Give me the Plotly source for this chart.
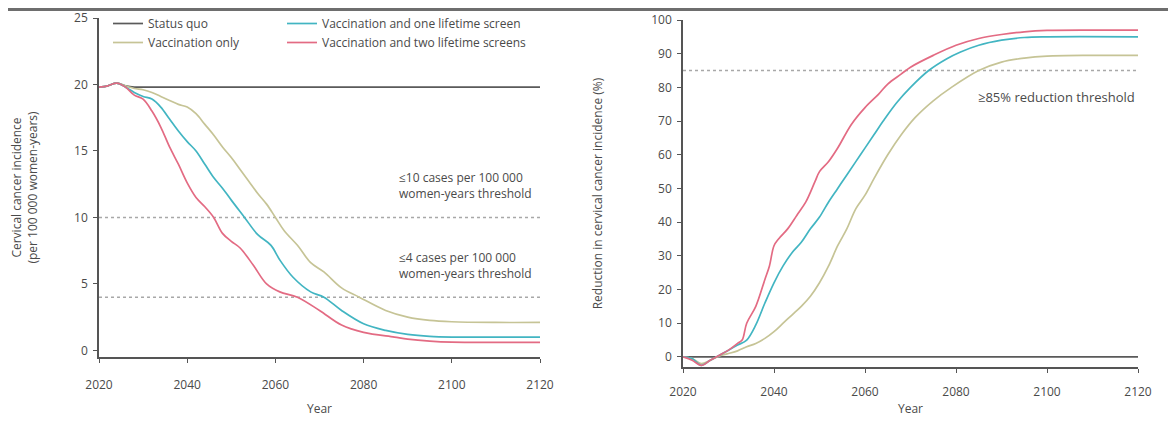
import plotly.graph_objects as go

# ---------------- data ----------------
years_sq = [2020, 2022, 2024, 2026, 2028, 2030, 2120]
inc_status_quo = [19.8, 19.9, 20.1, 19.9, 19.8, 19.8, 19.8]
red_status_quo = [0, 0, 0, 0, 0, 0, 0]

years_vo = [2020, 2022, 2024, 2026, 2028, 2030, 2032, 2034, 2036, 2038, 2040, 2042, 2044, 2046,
            2048, 2050, 2052, 2054, 2056, 2058, 2060, 2062, 2065, 2068, 2071, 2075, 2079,
            2085, 2090, 2095, 2100, 2110, 2120]
inc_vacc_only = [19.8, 19.9, 20.1, 19.9, 19.7, 19.6, 19.4, 19.1, 18.8, 18.5, 18.3, 17.8, 17.0, 16.2,
                 15.3, 14.5, 13.6, 12.7, 11.8, 11.0, 10.0, 9.0, 7.9, 6.6, 5.9, 4.7, 4.0,
                 3.0, 2.5, 2.25, 2.15, 2.1, 2.1]
red_vacc_only = [0, -0.5, -2, -1, 0.3, 1, 1.8, 3, 4, 5.5, 7.5, 10, 12.5, 15,
                 18, 22, 27, 33, 38, 44, 48, 53, 60, 66, 71, 76, 80,
                 85, 87.5, 88.7, 89.3, 89.5, 89.5]

years_one = [2020, 2022, 2024, 2026, 2028, 2030, 2032, 2034, 2036, 2038, 2040, 2042, 2044, 2046,
             2048, 2050, 2053, 2056, 2059, 2061, 2064, 2068, 2071, 2075, 2080, 2085, 2090,
             2095, 2100, 2120]
inc_one_screen = [19.8, 19.9, 20.1, 19.8, 19.4, 19.1, 18.9, 18.3, 17.4, 16.5, 15.7, 15.0, 14.0, 13.0,
                  12.2, 11.3, 10.0, 8.7, 7.9, 6.8, 5.5, 4.4, 4.0, 3.0, 2.0, 1.5, 1.2,
                  1.05, 1.0, 1.0]
years_one_r = [2020, 2022, 2024, 2026, 2028, 2030, 2032, 2034, 2036, 2038, 2040, 2042, 2044, 2046,
               2048, 2050, 2052, 2054, 2056, 2059, 2062, 2064, 2067, 2070, 2074, 2078, 2081,
               2085, 2090, 2095, 2100, 2120]
red_one_screen = [0, -0.5, -2.5, -1, 0.5, 2, 3.5, 5, 9.5, 16, 22, 27, 31, 34,
                  38, 41.5, 46, 50, 54, 60, 66, 70, 75.5, 80, 85, 88.5, 90.5,
                  92.5, 94, 94.8, 95, 95]

years_two = [2020, 2022, 2024, 2026, 2028, 2030, 2032, 2034, 2036, 2038, 2040, 2042, 2044, 2046,
             2048, 2050, 2052, 2055, 2058, 2061, 2065, 2070, 2075, 2080, 2087, 2090, 2095,
             2100, 2110, 2120]
inc_two_screens = [19.8, 19.9, 20.1, 19.8, 19.2, 18.9, 18.0, 16.8, 15.3, 14.0, 12.6, 11.5, 10.8, 10.0,
                   8.8, 8.2, 7.7, 6.4, 5.0, 4.4, 4.0, 3.0, 1.9, 1.35, 1.0, 0.85, 0.7,
                   0.62, 0.6, 0.6]
years_two_r = [2020, 2022, 2024, 2026, 2028, 2030, 2032, 2033, 2034, 2036, 2038, 2039, 2040, 2041,
               2043, 2045, 2047, 2049, 2050, 2052, 2054, 2057, 2060, 2063, 2065, 2068, 2070,
               2075, 2080, 2085, 2090, 2095, 2100, 2110, 2120]
red_two_screens = [0, -1, -2.5, -1, 0.5, 2, 4, 5, 10, 15, 23, 27, 33, 35,
                   38, 42, 46, 52, 55, 58, 62, 69, 74, 78, 81, 84, 86,
                   89.5, 92.5, 94.5, 95.7, 96.5, 96.9, 97, 97]

left_thresholds = [10, 4]
right_thresholds = [85]

names = ["Status quo", "Vaccination only", "Vaccination and one lifetime screen",
         "Vaccination and two lifetime screens"]
colors = ["#5a5a5a", "#c6c496", "#42b5c2", "#e36b83"]

FONT = "Open Sans"
TXT = "#4a4a4a"

# page offset (body margin) compensation: screen px -> figure px
OFF = 8
W, H = 1176, 428
T, B = 10, 69            # margins (figure px)
PH = H - T - B           # plot-area height


def px(xs):
    return (xs - OFF) / W


def py(ys):
    return (H - B - (ys - OFF)) / PH


fig = go.Figure()

left = [(years_sq, inc_status_quo), (years_vo, inc_vacc_only),
        (years_one, inc_one_screen), (years_two, inc_two_screens)]
legends = ["legend", "legend", "legend2", "legend2"]
for (x, y), n, c, lg in zip(left, names, colors, legends):
    fig.add_trace(go.Scatter(x=x, y=y, mode="lines", name=n, line=dict(color=c, width=1.7),
                             xaxis="x", yaxis="y", legend=lg, line_shape="spline"))

right = [(years_sq, red_status_quo), (years_vo, red_vacc_only),
         (years_one_r, red_one_screen), (years_two_r, red_two_screens)]
for (x, y), n, c in zip(right, names, colors):
    fig.add_trace(go.Scatter(x=x, y=y, mode="lines", name=n, line=dict(color=c, width=1.7),
                             xaxis="x2", yaxis="y2", showlegend=False, line_shape="spline"))

for t in left_thresholds:
    fig.add_shape(type="line", xref="x", yref="y", x0=2020, x1=2120, y0=t, y1=t,
                  line=dict(color="#a8a8a8", width=1.5, dash="dot"), layer="below")
for t in right_thresholds:
    fig.add_shape(type="line", xref="x2", yref="y2", x0=2020, x1=2120, y0=t, y1=t,
                  line=dict(color="#a8a8a8", width=1.5, dash="dot"), layer="below")

# top bar
fig.add_shape(type="rect", xref="paper", yref="paper", x0=-0.01, x1=1.01,
              y0=(H - B - 3) / PH, y1=(H - B + 2) / PH,
              fillcolor="#6e6e6e", line=dict(width=0))

ann = dict(xref="paper", yref="paper", showarrow=False, font=dict(family=FONT, size=12, color=TXT),
           xanchor="left", align="left", yanchor="middle")
fig.add_annotation(x=px(397), y=py(185), text="≤10 cases per 100 000<br>women-years threshold", **ann)
fig.add_annotation(x=px(397), y=py(265), text="≤4 cases per 100 000<br>women-years threshold", **ann)
fig.add_annotation(x=px(976), y=py(97), text="≥85% reduction threshold",
                   **{**ann, "font": dict(family=FONT, size=13, color=TXT)})

axis_common = dict(showline=True, linecolor="#555", linewidth=1.5, ticks="outside", ticklen=4,
                   tickcolor="#555", tickwidth=1.2, showgrid=False, zeroline=False, automargin=False,
                   tickfont=dict(family=FONT, size=12, color=TXT),
                   title_font=dict(family=FONT, size=12, color=TXT))

ticks_x = [2020, 2040, 2060, 2080, 2100, 2120]

fig.update_layout(
    width=W, height=H,
    margin=dict(l=0, r=0, t=T, b=B, autoexpand=False),
    paper_bgcolor="white", plot_bgcolor="white",
    font=dict(family=FONT, size=12, color=TXT),
    xaxis=dict(domain=[px(99), px(540)], range=[2020, 2120], tickvals=ticks_x,
               anchor="y", ticklabelstandoff=12, title=dict(text="Year", standoff=12), **axis_common),
    yaxis=dict(domain=[py(357), py(18)], range=[-0.5, 25], tickvals=[0, 5, 10, 15, 20, 25],
               anchor="x", ticklabelstandoff=3,
               title=dict(text="Cervical cancer incidence<br>(per 100 000 women-years)", standoff=36),
               **axis_common),
    xaxis2=dict(domain=[px(683), px(1138)], range=[2020, 2120], tickvals=ticks_x,
                anchor="y2", ticklabelstandoff=9, title=dict(text="Year", standoff=5), **axis_common),
    yaxis2=dict(domain=[py(367), min(1.0, py(20))], range=[-3, 100], tickvals=list(range(0, 101, 10)),
                anchor="x2", ticklabelstandoff=3,
                title=dict(text="Reduction in cervical cancer incidence (%)", standoff=46),
                **axis_common),
    legend=dict(x=px(108), y=py(9), xanchor="left", yanchor="top", bgcolor="rgba(0,0,0,0)",
                font=dict(family=FONT, size=12, color=TXT), tracegroupgap=0, itemwidth=30),
    legend2=dict(x=px(282), y=py(9), xanchor="left", yanchor="top", bgcolor="rgba(0,0,0,0)",
                 font=dict(family=FONT, size=12, color=TXT), tracegroupgap=0, itemwidth=30),
)

fig.write_html("out.html")
